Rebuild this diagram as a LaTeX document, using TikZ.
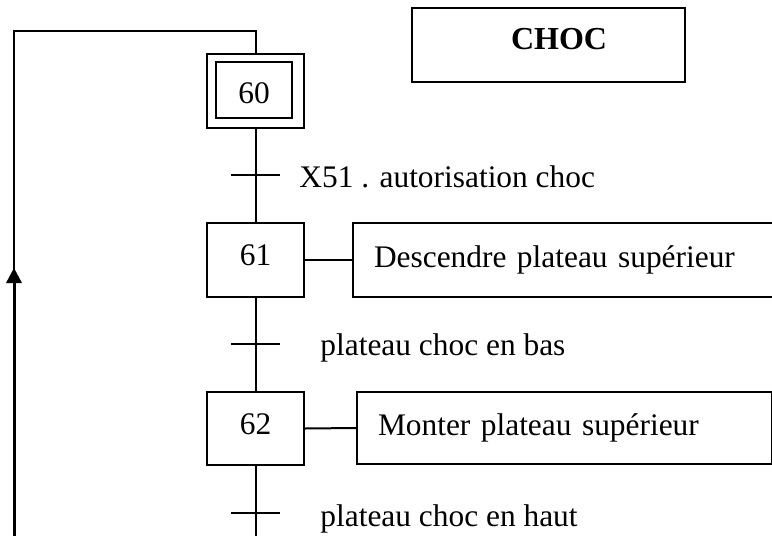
\documentclass[tikz,border=0pt]{standalone}
\usepackage{fontspec}
\setmainfont{Liberation Serif}
\begin{document}
\begin{tikzpicture}[x=0.5pt,y=-0.5pt,
  every node/.style={font=\fontsize{15.7pt}{19pt}\selectfont},
  stepbox/.style={draw, line width=1pt, minimum width=48.5pt, minimum height=37pt,
    inner sep=0pt, text height=8pt, text depth=2.5pt},
  actionbox/.style={draw, line width=1pt, anchor=west, inner xsep=10.5pt,
    inner ysep=0pt, align=left},
  link/.style={line width=1pt},
  tick/.style={line width=1pt},
  cond/.style={anchor=base west, inner sep=0pt}]

\useasboundingbox (0,0) rectangle (772,536);
\clip (0,0) rectangle (772,536);

% title box
\node[draw, line width=1pt, minimum width=136.5pt, minimum height=37pt, inner sep=0pt]
  (titlebox) at (548.5,45) {};
\node[anchor=base, font=\fontsize{16pt}{19pt}\selectfont\bfseries, inner sep=0pt]
  (title) at (559,49) {CHOC};

% initial step (double frame)
\node[stepbox] (s60) at (255.5,91) {};
\node[stepbox, minimum width=38pt, minimum height=28pt, text height=14pt, text depth=1pt]
  (s60i) at (254,90) {60};

% steps
\node[stepbox] (s61) at (255.5,260) {61};
\node[stepbox, minimum height=36.5pt] (s62) at (255.5,428.5) {62};

% actions
\node[actionbox, minimum height=37pt, text width=193pt] (a61) at (352,260)
  {Descendre plateau supérieur};
\node[actionbox, minimum height=36pt, text width=186.5pt] (a62) at (356,428)
  {Monter plateau supérieur};

% transitions
\coordinate (t0) at (255.5,175);
\coordinate (t1) at (255.5,344);
\coordinate (t2) at (255.5,513);
\foreach \t in {t0,t1,t2}
  \draw[tick] ([xshift=-12.5pt]\t) -- ([xshift=12pt]\t);

\node[cond] (c0) at (299,187) {X51 . autorisation choc};
\node[cond] (c1) at (320,355) {plateau choc en bas};
\node[cond] (c2) at (320,526) {plateau choc en haut};

% links between steps
\coordinate (bottom) at (255.5,540);
\draw[link] (s60.south) -- (s61.north);
\draw[link] (s61.south) -- (s62.north);
\draw[link] (s62.south) -- (bottom);
\draw[link] (s61.east) -- (a61.west);
\draw[link] (s62.east) -- (a62.west);

% return loop
\coordinate (lb) at (14,540);
\coordinate (la) at (14,283);
\coordinate (ltip) at (14,268);
\coordinate (lt) at (14,31);
\draw[line width=1.5pt] (lb) -- (la);
\fill (ltip) -- ++(-8,15) -- ++(16,0) -- cycle;
\draw[link] (la) -- (lt) -| (s60.north);

\end{tikzpicture}
\end{document}
